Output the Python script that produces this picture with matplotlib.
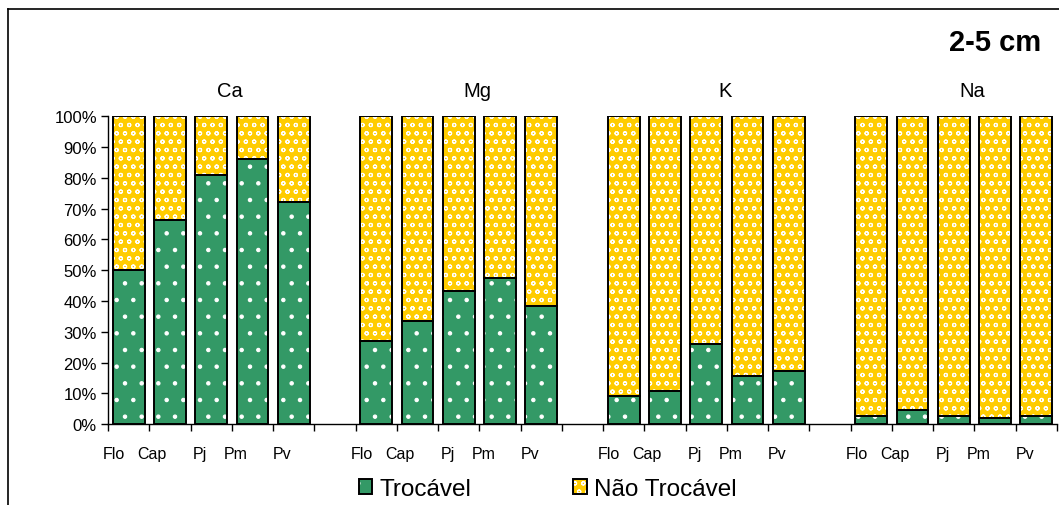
import matplotlib.pyplot as plt
import numpy as np
from matplotlib.patches import Patch
from matplotlib.lines import Line2D

plt.rcParams['font.family'] = ['Liberation Sans', 'DejaVu Sans']
plt.rcParams['hatch.linewidth'] = 0.8

# data (% trocável); remainder is "Não Trocável"
elements = ['Ca', 'Mg', 'K', 'Na']
sites = ['Flo', 'Cap', 'Pj', 'Pm', 'Pv']
ca = [50.0, 66.3, 80.9, 86.3, 72.2]
mg = [27.1, 33.6, 43.2, 47.4, 38.3]
k = [9.2, 10.8, 26.1, 15.7, 17.1]
na = [2.5, 4.6, 2.6, 2.1, 2.7]
yticks = [0, 10, 20, 30, 40, 50, 60, 70, 80, 90, 100]

green = '#339966'
yellow = '#FFCC00'

fig = plt.figure(figsize=(10.59, 5.06), dpi=100)
ax = fig.add_axes([0.102, 0.160, 0.896, 0.608])

width = 0.77
groups = [ca, mg, k, na]
for g, vals in enumerate(groups):
    x = np.arange(5) + g * 6
    troc = np.array(vals)
    nao = 100 - troc
    # base fill
    ax.bar(x, troc, width, color=green, edgecolor='none', zorder=2)
    ax.bar(x, nao, width, bottom=troc, color=yellow, edgecolor='none', zorder=2)
    # white pattern
    ax.bar(x, troc, width, color='none', edgecolor='white', hatch='.', linewidth=0, zorder=3)
    ax.bar(x, nao, width, bottom=troc, color='none', edgecolor='white', hatch='oo', linewidth=0, zorder=3)
    # black outlines
    ax.bar(x, troc, width, color='none', edgecolor='black', linewidth=1.4, zorder=4)
    ax.bar(x, nao, width, bottom=troc, color='none', edgecolor='black', linewidth=1.4, zorder=4)

    # site labels (placed like the original text boxes)
    for off, s in zip([-0.35, -0.43, -0.27, -0.40, -0.28], sites):
        ax.text(g * 6 + sites.index(s) + off, -0.097, s, transform=ax.get_xaxis_transform(),
                ha='center', va='center', fontsize=11.5)
    ax.text(g * 6 + 2.45, 1.085, elements[g], transform=ax.get_xaxis_transform(),
            ha='center', va='center', fontsize=14.5)

ax.set_xlim(-0.5, 22.5)
ax.set_ylim(0, 100)
ax.set_xticks(np.arange(-0.5, 23, 1))
ax.set_xticklabels([])
ax.set_yticks(yticks)
ax.set_yticklabels([f'{v}%' for v in yticks], fontsize=12)
ax.tick_params(axis='both', direction='out', length=5, width=1, color='black')
ax.tick_params(axis='y', pad=3)
for side in ['top', 'right']:
    ax.spines[side].set_visible(False)
for side in ['left', 'bottom']:
    ax.spines[side].set_linewidth(1)

# title
fig.text(0.983, 0.915, '2-5 cm', ha='right', va='center', fontsize=21, fontweight='bold')

# outer chart frame (cropped at right/bottom)
fig.add_artist(Line2D([8 / 1059, 8 / 1059], [1 - 10 / 506, -0.1], transform=fig.transFigure,
                      color='black', linewidth=1.2))
fig.add_artist(Line2D([8 / 1059, 1.1], [1 - 10 / 506, 1 - 10 / 506], transform=fig.transFigure,
                      color='black', linewidth=1.2))

# legend: fill + white pattern + black outline
h_troc = (Patch(facecolor=green, edgecolor='none'),
          Patch(facecolor='none', edgecolor='white', hatch='.', linewidth=0),
          Patch(facecolor='none', edgecolor='black', linewidth=1.4))
h_nao = (Patch(facecolor=yellow, edgecolor='none'),
         Patch(facecolor='none', edgecolor='white', hatch='oo', linewidth=0),
         Patch(facecolor='none', edgecolor='black', linewidth=1.4))
leg = fig.legend([h_troc, h_nao], ['Trocável', 'Não Trocável'], loc='center',
                 bbox_to_anchor=(0.517, 0.032), ncol=2, frameon=False, fontsize=17.5,
                 handlelength=0.55, handleheight=0.55, handletextpad=0.3, columnspacing=4.2)

fig.savefig('out.png', dpi=100)
